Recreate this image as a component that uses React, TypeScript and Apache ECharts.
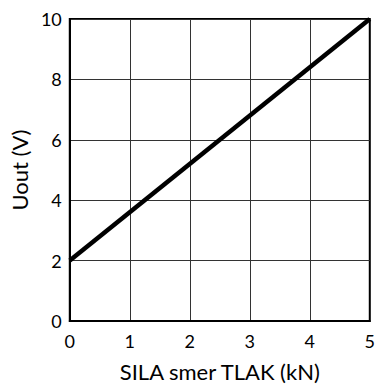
import React, { useEffect, useRef } from "react";
import * as echarts from "echarts";

const forceKN = [0, 5];
const uoutV = [2, 10];
const xTicks = [0, 1, 2, 3, 4, 5];
const yTicks = [0, 2, 4, 6, 8, 10];

const FONT = "Lato, 'Open Sans', sans-serif";

export default function App() {
  const ref = useRef<HTMLDivElement>(null);
  useEffect(() => {
    if (!ref.current) return;
    const chart = echarts.init(ref.current, undefined, { renderer: "svg" });
    chart.setOption({
      animation: false,
      backgroundColor: "#fff",
      grid: { left: 69, top: 19, right: 6, bottom: 66, show: true, borderColor: "#000", borderWidth: 2, containLabel: false },
      xAxis: {
        type: "value",
        min: xTicks[0],
        max: xTicks[xTicks.length - 1],
        interval: 1,
        name: "SILA smer TLAK (kN)",
        nameLocation: "middle",
        nameGap: 39,
        nameTextStyle: { fontFamily: FONT, fontSize: 22, color: "#000" },
        axisLine: { show: true, lineStyle: { color: "#000", width: 2 } },
        axisTick: { show: false },
        axisLabel: { fontFamily: FONT, fontSize: 18, color: "#000", margin: 11 },
        splitLine: { show: true, lineStyle: { color: "#333", width: 1 } },
      },
      yAxis: {
        type: "value",
        min: yTicks[0],
        max: yTicks[yTicks.length - 1],
        interval: 2,
        name: "Uout (V)",
        nameLocation: "middle",
        nameGap: 35,
        nameTextStyle: { fontFamily: FONT, fontSize: 22, color: "#000" },
        axisLine: { show: true, lineStyle: { color: "#000", width: 2 } },
        axisTick: { show: false },
        axisLabel: { fontFamily: FONT, fontSize: 18, color: "#000", margin: 8 },
        splitLine: { show: true, lineStyle: { color: "#333", width: 1 } },
      },
      series: [
        {
          type: "line",
          data: forceKN.map((x, i) => [x, uoutV[i]]),
          showSymbol: false,
          lineStyle: { color: "#000", width: 4.5 },
        },
      ],
    });
    return () => chart.dispose();
  }, []);
  return <div ref={ref} style={{ width: 378, height: 387, position: "absolute", left: 0, top: 0 }} />;
}
